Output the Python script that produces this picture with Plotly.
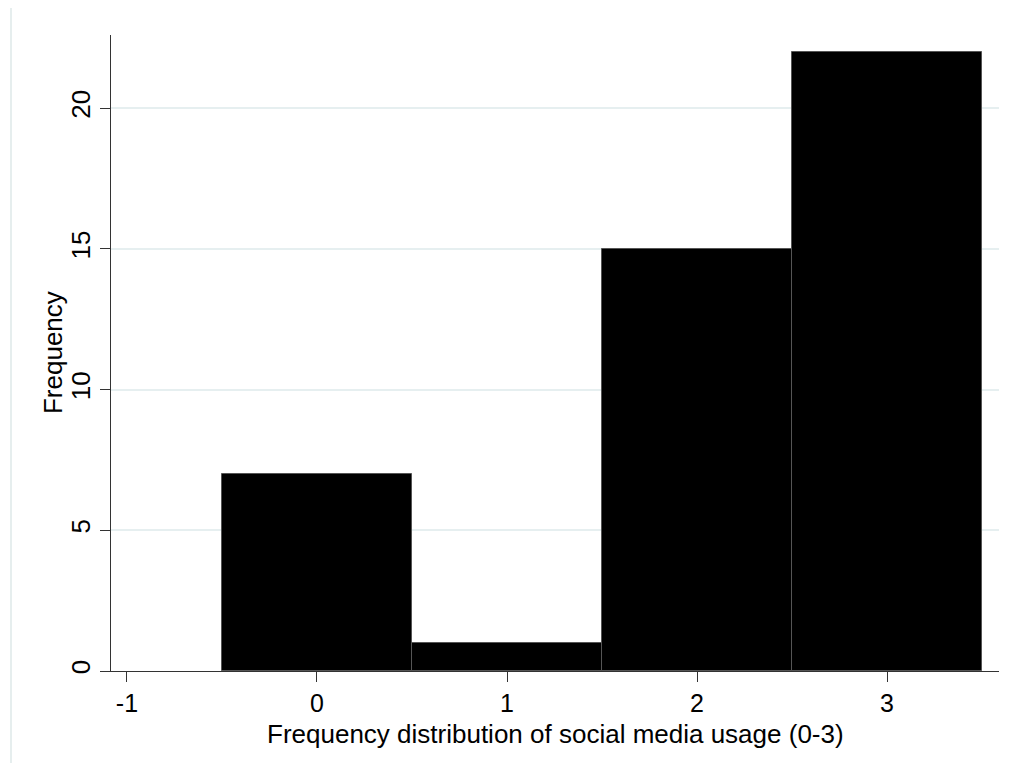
import plotly.graph_objects as go

categories = [0, 1, 2, 3]
counts = [7, 1, 15, 22]
x_ticks = [-1, 0, 1, 2, 3]
y_ticks = [0, 5, 10, 15, 20]
x_title = "Frequency distribution of social media usage (0-3)"
y_title = "Frequency"

fig = go.Figure()
fig.add_trace(go.Bar(
    x=categories, y=counts, width=1,
    marker=dict(color="black", line=dict(color="#555555", width=1)),
))

font = "Liberation Sans, Arial, sans-serif"
fs = 26
fig.update_layout(
    width=1010, height=755,
    margin=dict(l=103, r=19, t=27, b=92),
    plot_bgcolor="white", paper_bgcolor="white",
    showlegend=False,
    font=dict(family=font, size=fs, color="black"),
    bargap=0,
)
fig.update_xaxes(
    range=[-1.084, 3.589], tickvals=x_ticks, ticktext=[str(v) for v in x_ticks],
    showgrid=False, zeroline=False, showline=True, linecolor="#333333", linewidth=1.2,
    ticks="outside", ticklen=10, tickcolor="#333333",
    tickfont=dict(size=25),
)
fig.update_yaxes(
    range=[0, 22.6], tickvals=y_ticks, ticktext=[str(v) for v in y_ticks],
    showgrid=True, gridcolor="#e6eff0", gridwidth=1.5, zeroline=False,
    showline=True, linecolor="#333333", linewidth=1.2,
    ticks="outside", ticklen=10, tickcolor="#333333", tickangle=-90,
    tickfont=dict(size=fs),
)
fig.add_annotation(text=x_title, xref="paper", yref="paper", x=0.5, y=-0.0985,
                   xanchor="center", yanchor="middle", showarrow=False,
                   font=dict(size=fs, color="black"))
fig.add_annotation(text=y_title, xref="paper", yref="paper", x=-0.0653, y=0.5,
                   xanchor="center", yanchor="middle", showarrow=False, textangle=-90,
                   font=dict(size=fs, color="black"))
fig.add_shape(type="rect", xref="paper", yref="paper",
              x0=(11 - 111) / 888, x1=1.2, y0=-0.5, y1=1 + 28 / 636,
              line=dict(color="#e6eeee", width=2), fillcolor="rgba(0,0,0,0)", layer="below")
fig.write_html("out.html")
